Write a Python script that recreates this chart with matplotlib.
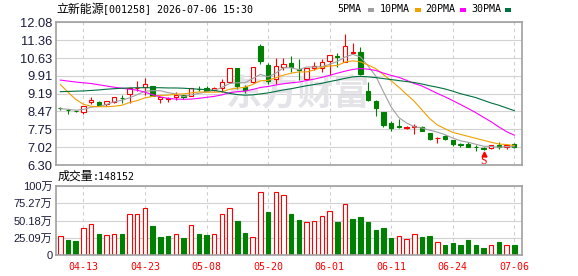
import numpy as np
import matplotlib
matplotlib.use('Agg')
import matplotlib.pyplot as plt
from matplotlib.patches import Rectangle

W, H = 578, 276

# ---- data ----
opens = [8.61, 8.52, 8.50, 8.44, 8.84, 8.87, 8.79, 8.87, 9.02, 9.19,
         9.41, 9.47, 9.50, 8.97, 8.97, 9.05, 9.13, 9.10, 9.39, 9.41,
         9.32, 9.41, 9.67, 10.21, 9.47, 9.67, 11.14, 10.34, 9.80, 10.25,
         10.43, 10.17, 9.77, 10.24, 10.24, 10.51, 10.71, 10.49, 10.84, 10.88,
         9.30, 8.89, 8.45, 7.99, 7.87, 7.78, 7.84, 7.83, 7.58, 7.38,
         7.46, 7.32, 7.13, 7.17, 7.03, 6.97, 6.98, 7.10, 7.01, 7.15]
closes = [8.60, 8.51, 8.48, 8.71, 8.92, 8.75, 8.88, 9.04, 9.01, 9.41,
          9.43, 9.58, 9.10, 9.05, 9.01, 9.14, 9.05, 9.43, 9.38, 9.31,
          9.42, 9.67, 10.21, 9.52, 9.35, 10.25, 10.51, 9.70, 10.31, 10.41,
          10.25, 10.14, 10.24, 10.31, 10.46, 10.77, 10.68, 11.12, 10.86, 9.97,
          8.93, 8.62, 7.92, 7.81, 7.82, 7.84, 7.86, 7.67, 7.37, 7.40,
          7.36, 7.16, 7.12, 7.04, 7.02, 6.96, 7.09, 7.01, 7.10, 7.02]
highs = [8.66, 8.56, 8.51, 8.71, 9.07, 8.90, 8.88, 9.04, 9.12, 9.46,
         9.69, 9.81, 9.52, 9.06, 9.05, 9.27, 9.15, 9.43, 9.48, 9.52,
         9.45, 9.77, 10.21, 10.21, 9.56, 10.25, 11.21, 10.43, 10.65, 10.63,
         10.70, 10.61, 10.24, 10.49, 10.61, 10.77, 10.82, 11.61, 11.23, 11.09,
         9.67, 8.92, 8.46, 8.08, 8.18, 7.86, 7.95, 7.86, 7.59, 7.45,
         7.51, 7.33, 7.20, 7.22, 7.10, 7.02, 7.10, 7.25, 7.17, 7.19]
lows = [8.52, 8.36, 8.46, 8.37, 8.78, 8.72, 8.68, 8.83, 8.83, 8.82,
        9.30, 9.12, 9.08, 8.80, 8.87, 8.94, 8.97, 9.10, 9.30, 9.30,
        9.30, 9.26, 9.67, 9.36, 9.20, 9.63, 10.41, 9.58, 9.60, 10.14,
        10.05, 9.73, 9.75, 10.15, 10.05, 9.95, 10.28, 10.49, 10.78, 9.95,
        8.90, 8.30, 7.85, 7.69, 7.80, 7.76, 7.57, 7.66, 7.33, 7.18,
        7.30, 7.08, 7.02, 7.02, 6.85, 6.90, 6.93, 6.96, 6.93, 7.00]
prev_close = 8.55  # close before the first bar (first volume bar is red)

ma5 = [8.58, 8.56, 8.52, 8.55, 8.64, 8.67, 8.75, 8.86, 8.92, 9.02,
       9.15, 9.29, 9.31, 9.31, 9.23, 9.18, 9.07, 9.14, 9.20, 9.26,
       9.32, 9.44, 9.60, 9.63, 9.63, 9.80, 9.97, 9.87, 10.02, 10.24,
       10.24, 10.16, 10.27, 10.27, 10.28, 10.38, 10.49, 10.67, 10.78, 10.68,
       10.31, 9.90, 9.26, 8.65, 8.22, 8.00, 7.85, 7.80, 7.71, 7.63,
       7.53, 7.39, 7.28, 7.22, 7.14, 7.06, 7.05, 7.02, 7.04, 7.04]
ma10 = [9.56, 9.25, 8.96, 8.76, 8.68, 8.66, 8.66, 8.68, 8.72, 8.83,
        8.91, 9.02, 9.08, 9.12, 9.13, 9.17, 9.18, 9.22, 9.26, 9.25,
        9.25, 9.26, 9.37, 9.41, 9.45, 9.56, 9.71, 9.73, 9.83, 9.94,
        10.02, 10.07, 10.07, 10.15, 10.26, 10.31, 10.33, 10.47, 10.52, 10.48,
        10.35, 10.20, 9.96, 9.71, 9.45, 9.16, 8.88, 8.53, 8.18, 7.92,
        7.77, 7.62, 7.54, 7.46, 7.38, 7.30, 7.22, 7.15, 7.13, 7.09]
ma20 = [9.74, 9.70, 9.66, 9.63, 9.60, 9.55, 9.50, 9.45, 9.41, 9.37,
        9.33, 9.25, 9.15, 9.06, 9.00, 8.97, 8.96, 8.97, 9.00, 9.04,
        9.08, 9.14, 9.23, 9.27, 9.29, 9.36, 9.44, 9.48, 9.54, 9.59,
        9.63, 9.66, 9.72, 9.78, 9.85, 9.93, 10.02, 10.10, 10.17, 10.21,
        10.18, 10.13, 10.02, 9.93, 9.85, 9.73, 9.60, 9.50, 9.35, 9.20,
        9.06, 8.91, 8.75, 8.59, 8.42, 8.23, 8.05, 7.84, 7.65, 7.51]
ma30 = [9.27, 9.28, 9.29, 9.30, 9.32, 9.34, 9.37, 9.39, 9.41, 9.42,
        9.43, 9.43, 9.43, 9.43, 9.42, 9.42, 9.41, 9.39, 9.37, 9.35,
        9.32, 9.27, 9.20, 9.15, 9.13, 9.14, 9.18, 9.22, 9.28, 9.34,
        9.39, 9.45, 9.51, 9.56, 9.61, 9.68, 9.74, 9.81, 9.87, 9.89,
        9.87, 9.84, 9.80, 9.76, 9.72, 9.68, 9.64, 9.58, 9.51, 9.45,
        9.38, 9.29, 9.19, 9.11, 9.03, 8.92, 8.81, 8.72, 8.61, 8.50]

# volume in 万手
volumes = [27, 22, 21, 39, 45, 30, 28.5, 30, 30, 60,
           60, 68, 42, 26, 27.5, 30, 24.6, 43, 30, 29,
           30, 59, 68, 49, 32, 25.6, 92, 62, 92, 87,
           59.4, 50.7, 47.3, 48.8, 56, 63.3, 47.8, 74.9, 52.2, 55,
           47.8, 36.2, 39.1, 24.6, 27.5, 22.7, 30, 26.1, 27.5, 18.8,
           14.5, 17.4, 14.5, 21.7, 14.5, 10.1, 14, 18.8, 14, 14.8]

date_labels = ['04-13', '04-23', '05-08', '05-20', '06-01', '06-11', '06-24', '07-06']
date_step = 8
date_first = 3

price_ticks = [6.30, 7.02, 7.75, 8.47, 9.19, 9.91, 10.63, 11.36, 12.08]
price_labels = ['6.30', '7.02', '7.75', '8.47', '9.19', '9.91', '10.63', '11.36', '12.08']
vol_ticks = [0, 25.09, 50.18, 75.27, 100.36]
vol_labels = ['0', '25.09万', '50.18万', '75.27万', '100万']

ma_names = ['5PMA', '10PMA', '20PMA', '30PMA']
ma_colors = ['#a0a0a0', '#f0a000', '#ff00ff', '#007040']
signal_idx = 55  # the "S" marker

RED = '#ff0000'
GREEN = '#008000'
CJK = 'Noto Sans CJK SC'
MONO = 'DejaVu Sans Mono'


def fx(x):
    return x / W


def fy(y):
    return 1 - y / H


fig = plt.figure(figsize=(W / 100, H / 100), dpi=100)
ax = fig.add_axes([fx(56), fy(165), 466 / W, 142.7 / H])
axv = fig.add_axes([fx(56), fy(255), 466 / W, 69 / H])

n = len(closes)
idx = np.arange(n)
xticks = np.arange(date_first, n, date_step)

for a in (ax, axv):
    a.set_xlim(-0.56, n)
    a.set_xticks(xticks)
    a.grid(axis='x', color='#cfcfcf', lw=0.8, linestyle=(0, (3, 3)))
    a.grid(axis='y', color='#d2d2d2', lw=0.8, linestyle='-')
    a.set_axisbelow(True)
    for s in a.spines.values():
        s.set_color('#a0a0a0')
        s.set_linewidth(1.2)
    a.tick_params(length=0)

# ---- price panel ----
ax.set_ylim(price_ticks[0], price_ticks[-1])
ax.set_yticks(price_ticks)
ax.set_yticklabels(price_labels, fontsize=9.3, family='Liberation Sans', color='#1c1c3c')
ax.tick_params(axis='y', pad=2.5)
ax.set_xticklabels([])

ax.text(0.52, 0.5, '东方财富', transform=ax.transAxes, fontsize=26, fontweight='bold',
        family=CJK, color='#e4e4e8', ha='center', va='center', zorder=0.6)

for i in idx:
    o, c, h, l = opens[i], closes[i], highs[i], lows[i]
    up = c >= o
    col = RED if up else GREEN
    ax.vlines(i, l, h, color=col, lw=0.8, zorder=2)
    body = max(abs(c - o), 0.012)
    ax.add_patch(Rectangle((i - 0.28, min(o, c)), 0.56, body,
                           facecolor='white' if up else GREEN,
                           edgecolor=col, lw=0.8, zorder=2.5))

for vals, col in zip([ma5, ma10, ma20, ma30], ma_colors):
    ax.plot(idx, vals, color=col, lw=0.8, zorder=3)

ax.plot(signal_idx, 6.74, marker='^', color=RED, markersize=3.5, zorder=5)
ax.text(signal_idx, 6.47, 'S', color=RED, fontsize=8.5, family='Liberation Serif',
        ha='center', va='center', zorder=5, clip_on=False)

# ---- volume panel ----
axv.set_ylim(0, vol_ticks[-1])
axv.set_yticks(vol_ticks)
axv.set_yticklabels(vol_labels, fontsize=8, family=['Liberation Sans', CJK], color='#1c1c3c')
axv.tick_params(axis='y', pad=2.5)
axv.set_xticklabels(date_labels, fontsize=7.2, family=MONO, color=RED)
axv.tick_params(axis='x', pad=5)

prev = [prev_close] + closes[:-1]
for i in idx:
    up = closes[i] >= prev[i]
    axv.add_patch(Rectangle((i - 0.29, 0), 0.58, volumes[i],
                            facecolor='white' if up else GREEN,
                            edgecolor=RED if up else GREEN, lw=0.8, zorder=2))

# ---- header texts ----
fig.text(fx(56), fy(9.5), '立新能源', fontsize=8.6, family=CJK, va='center', ha='left')
fig.text(fx(103.3), fy(9.5), '[001258] 2026-07-06 15:30', fontsize=7.2, family=MONO,
         va='center', ha='left')

legend_x = [337.6, 380, 425, 471]
square_x = [368, 415.3, 460, 505]
for name, col, tx, sx in zip(ma_names, ma_colors, legend_x, square_x):
    fig.text(fx(tx), fy(9.5), name, fontsize=7.2, family=MONO, va='center', ha='left')
    fig.patches.append(Rectangle((fx(sx), fy(11.5)), 6 / W, 4 / H, facecolor=col,
                                 edgecolor='none', transform=fig.transFigure, figure=fig))

fig.text(fx(57.5), fy(176.5), '成交量', fontsize=8.6, family=CJK, va='center', ha='left')
fig.text(fx(92.5), fy(176.5), ':148152', fontsize=7.2, family=MONO, va='center', ha='left')

fig.savefig('out.png', dpi=100, facecolor='white')
